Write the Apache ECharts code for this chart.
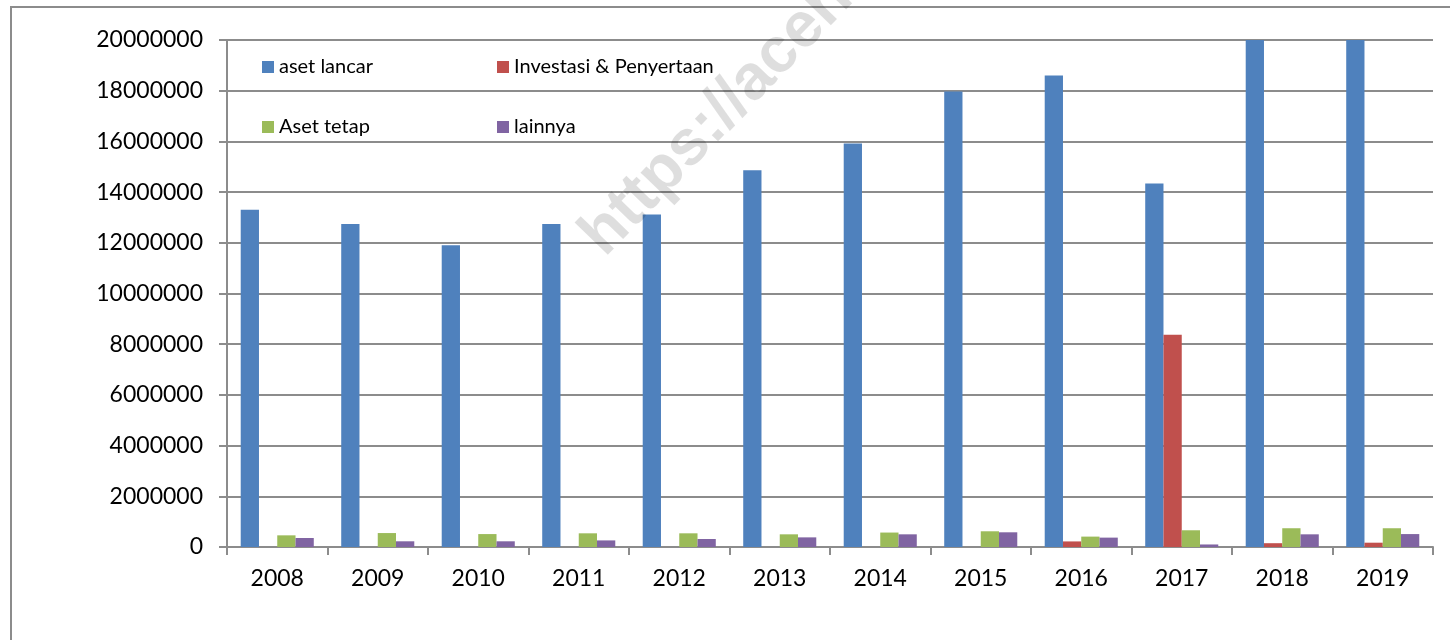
<!DOCTYPE html>
<html>
<head>
<meta charset="utf-8">
<script src="https://cdn.jsdelivr.net/npm/echarts@6/dist/echarts.min.js"></script>
<style>
html,body{margin:0;padding:0;background:#fff;}
#chart{width:1450px;height:640px;}
</style>
</head>
<body>
<div id="chart"></div>
<script>
const categories = ['2008','2009','2010','2011','2012','2013','2014','2015','2016','2017','2018','2019'];
const asetLancar = [13300000,12740000,11900000,12740000,13120000,14860000,15920000,17970000,18600000,14340000,20000000,20000000];
const investasi  = [0,0,0,0,0,0,0,0,220000,8370000,150000,170000];
const asetTetap  = [460000,550000,510000,540000,540000,500000,570000,620000,410000,660000,740000,740000];
const lainnya    = [355000,225000,225000,260000,315000,380000,500000,580000,370000,100000,500000,510000];
const seriesNames = ['aset lancar','Investasi & Penyertaan','Aset tetap','lainnya'];
const seriesColors = ['#4F81BD','#C0504D','#9BBB59','#8064A2'];
const yTicks = { min: 0, max: 20000000, interval: 2000000 };

const chart = echarts.init(document.getElementById('chart'), null, {renderer:'canvas'});
const font = 'Lato, "Open Sans", sans-serif';
const gridColor = '#8c8c8c';

const datasets = [asetLancar, investasi, asetTetap, lainnya];
const series = datasets.map((d, i) => ({
  name: seriesNames[i],
  type: 'bar',
  data: d,
  barGap: '0%',
  barCategoryGap: '27.3%',
  clip: true,
  itemStyle: { color: seriesColors[i] },
  emphasis: { disabled: true }
}));

function legendAt(name, left, top) {
  return {
    data: [name], left: left, top: top, padding: 0,
    icon: 'rect', itemWidth: 12, itemHeight: 12, itemGap: 0,
    textStyle: { fontFamily: font, fontSize: 20, color: '#000', padding: [0,0,0,0] },
    selectedMode: false
  };
}

chart.setOption({
  animation: false,
  backgroundColor: '#fff',
  grid: { left: 227, right: 17, top: 40, bottom: 93, containLabel: false },
  legend: [
    legendAt(seriesNames[0], 262, 57),
    legendAt(seriesNames[1], 497, 57),
    legendAt(seriesNames[2], 262, 117),
    legendAt(seriesNames[3], 497, 117)
  ],
  xAxis: {
    type: 'category',
    data: categories,
    axisLine: { lineStyle: { color: gridColor, width: 2 } },
    axisTick: { show: true, alignWithLabel: false, length: 8, lineStyle: { color: gridColor, width: 2 } },
    axisLabel: { fontFamily: font, fontSize: 23, color: '#000', margin: 20 }
  },
  yAxis: {
    type: 'value',
    min: yTicks.min, max: yTicks.max, interval: yTicks.interval,
    axisLine: { show: true, lineStyle: { color: gridColor, width: 2 } },
    axisTick: { show: true, length: 8, lineStyle: { color: gridColor, width: 2 } },
    splitLine: { show: true, lineStyle: { color: gridColor, width: 2 } },
    axisLabel: { fontFamily: font, fontSize: 23, color: '#000', margin: 24, formatter: v => String(v) }
  },
  graphic: [
    {
      type: 'rect', silent: true, z: -1,
      shape: { x: 11, y: 7, width: 1460, height: 660 },
      style: { fill: 'none', stroke: gridColor, lineWidth: 2 }
    },
    {
      type: 'text', silent: true, z: 100,
      x: 615, y: 268, rotation: 0.80,
      style: {
        text: 'https://aceh', fill: 'rgba(0,0,0,0.13)',
        font: 'bold 64px "Liberation Sans", Arial, sans-serif',
        textAlign: 'left', textVerticalAlign: 'bottom'
      }
    }
  ],
  series: series
});
</script>
</body>
</html>
